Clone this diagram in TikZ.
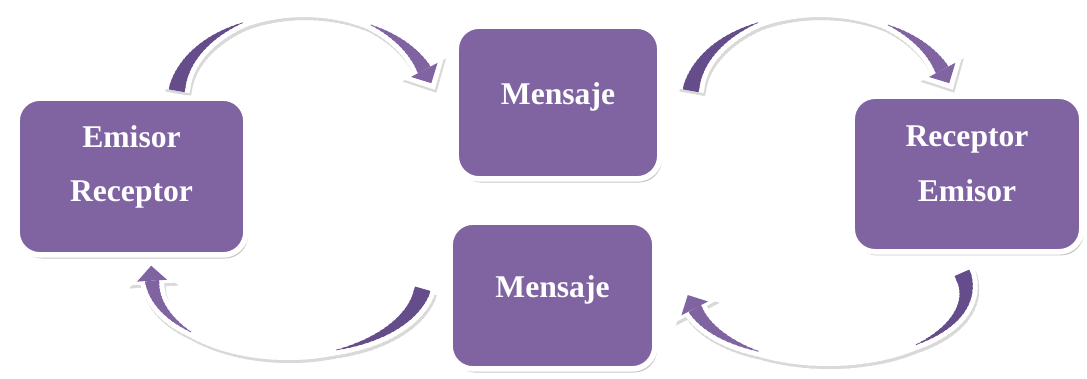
\documentclass[tikz,border=0pt]{standalone}
\usepackage{fontspec}
\setmainfont{Liberation Serif}
\usepackage{tikz}
\usetikzlibrary{calc, shadows}

\definecolor{morado}{HTML}{8064A2}
\definecolor{moradoosc}{HTML}{654D8C}

\tikzset{
  caja/.style={rectangle, rounded corners=0.57cm, fill=morado, draw=white, line width=0.14cm,
    text=white, font=\fontsize{22.5}{39}\selectfont\bfseries, align=center,
    drop shadow={shadow xshift=0.05cm, shadow yshift=-0.09cm, opacity=0.22, fill=black}},
  unalinea/.style={text height=0.55cm, text depth=0.45cm},
  sombra/.style={draw=gray!30, fill=gray!30},
  fondo/.style={draw=white, fill=white},
}

% curved arrow: #1 centre, #2 x radius, #3 y radius, #4 start angle, #5 end angle
\newcommand{\flechacurva}[5]{%
  \pgfmathsetmacro{\fin}{atan2(-(#3)*cos(#5),(#2)*sin(#5))}%
  % shadow and white band
  \foreach \capa/\dx/\dy in {sombra/1.5/-3, fondo/0/0}{%
    \foreach \i in {0,...,59}{%
      \pgfmathsetmacro{\ta}{(#4)+((#5)-(#4))*\i/60}%
      \pgfmathsetmacro{\tb}{(#4)+((#5)-(#4))*min(\i+1.6,60)/60}%
      \pgfmathsetmacro{\lw}{0.025*(10+max(0,16*(1-\i/21))+max(0,14*(\i-44)/15))}%
      \draw[\capa, line width=\lw cm] ($(#1)+(\ta:#2 and #3)+(\dx,\dy)$)
        arc[start angle=\ta, end angle=\tb, x radius=#2, y radius=#3];
    }
    \fill[\capa, shift={($(#1)+(#5:#2 and #3)+(\dx,\dy)$)}, rotate=\fin]
      (-3,24) -- (22,0) -- (-3,-24) -- cycle;
  }
  % purple tail
  \foreach \i in {0,...,20}{%
    \pgfmathsetmacro{\ta}{(#4)+((#5)-(#4))*\i/60}%
    \pgfmathsetmacro{\tb}{(#4)+((#5)-(#4))*(\i+1.6)/60}%
    \pgfmathsetmacro{\lw}{0.025*16*(1-\i/21)}%
    \draw[moradoosc, line width=\lw cm] ($(#1)+(\ta:#2 and #3)$)
      arc[start angle=\ta, end angle=\tb, x radius=#2, y radius=#3];
  }
  % purple head
  \foreach \i in {45,...,59}{%
    \pgfmathsetmacro{\ta}{(#4)+((#5)-(#4))*\i/60}%
    \pgfmathsetmacro{\tb}{(#4)+((#5)-(#4))*min(\i+1.6,60)/60}%
    \pgfmathsetmacro{\lw}{0.025*14*(\i-44)/15}%
    \draw[morado, line width=\lw cm] ($(#1)+(\ta:#2 and #3)$)
      arc[start angle=\ta, end angle=\tb, x radius=#2, y radius=#3];
  }
  \fill[morado, shift={($(#1)+(#5:#2 and #3)$)}, rotate=\fin]
    (0,15) -- (15,0) -- (0,-15) -- cycle;
}

\begin{document}
\begin{tikzpicture}[x=0.025cm, y=0.025cm]
        \useasboundingbox (0,0) rectangle (1087,378);

        % Arc centres
        \coordinate (c1) at (304,278);
        \coordinate (c2) at (820,278);
        \coordinate (c3) at (288,100);
        \coordinate (c4) at (828,88);

        % Curved arrows
        \flechacurva{c1}{128}{88}{174}{20}
        \flechacurva{c2}{130}{88}{174}{20}
        \flechacurva{c4}{138}{71}{14}{-165}
        \flechacurva{c3}{136}{77}{-8}{-178}

        % Boxes
        \node[caja, minimum width=5.72cm, minimum height=3.92cm] (emisor) at (131.5,201.5)
            {Emisor\\Receptor\rule[-0.65cm]{0pt}{0pt}};
        \node[caja, unalinea, minimum width=5.09cm, minimum height=3.82cm] (mensaje1) at (558,275.5)
            {Mensaje};
        \node[caja, minimum width=5.74cm, minimum height=3.89cm] (receptor) at (967,204)
            {Receptor\\Emisor\rule[-0.52cm]{0pt}{0pt}};
        \node[caja, unalinea, minimum width=5.12cm, minimum height=3.67cm] (mensaje2) at (552.5,82.5)
            {Mensaje};

\end{tikzpicture}
\end{document}
